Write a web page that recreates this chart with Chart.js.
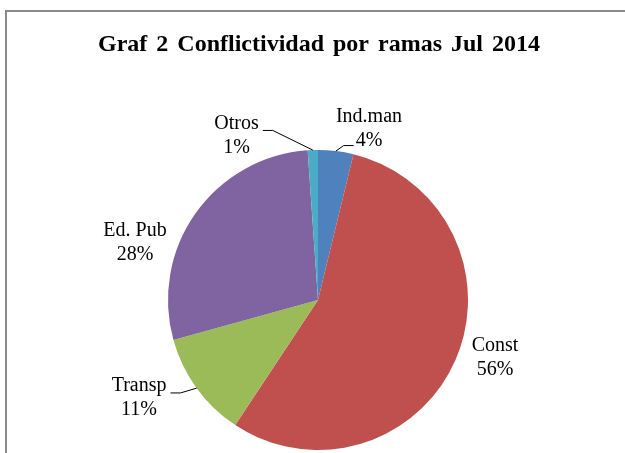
<!DOCTYPE html>
<html>
<head>
<meta charset="utf-8">
<script src="https://cdn.jsdelivr.net/npm/chart.js@4/dist/chart.umd.min.js"></script>
<style>
  html, body { margin: 0; padding: 0; background: #fff; }
  canvas { display: block; }
</style>
</head>
<body>
<canvas id="c" width="625" height="453"></canvas>
<script>
// ---- data ----
const chartTitle = 'Graf 2 Conflictividad por ramas Jul 2014';
const categories = ['Ind.man', 'Const', 'Transp', 'Ed. Pub', 'Otros'];
const shares = [3.8, 55.5, 11.4, 28.2, 1.1];
const sliceColors = ['#4F81BD', '#C0504D', '#9BBB59', '#8064A2', '#4BACC6'];

// ---- label placement (relative to pie centre, in units of radius) ----
const labelPlacement = [
  { fx: 0.34,  fy: -1.143, leader: 'l2left' },
  { fx: 1.18,  fy: 0.387,  leader: null },
  { fx: -1.193, fy: 0.653, leader: 'l1right' },
  { fx: -1.22, fy: -0.38,  leader: null },
  { fx: -0.543, fy: -1.097, leader: 'l1right' }
];

const FONT = '"Liberation Serif", "Times New Roman", serif';

const decorPlugin = {
  id: 'decor',
  beforeDraw(chart) {
    const ctx = chart.ctx;
    ctx.save();
    ctx.fillStyle = '#fff';
    ctx.fillRect(0, 0, chart.width, chart.height);
    ctx.strokeStyle = '#8a8a8a';
    ctx.lineWidth = 2;
    ctx.beginPath();
    ctx.moveTo(6, chart.height + 5);
    ctx.lineTo(6, 11);
    ctx.lineTo(chart.width + 5, 11);
    ctx.stroke();
    ctx.fillStyle = '#000';
    ctx.font = 'bold 24px ' + FONT;
    ctx.textAlign = 'center';
    ctx.textBaseline = 'alphabetic';
    try { ctx.wordSpacing = '3px'; } catch (e) {}
    ctx.fillText(chartTitle, 319, 51);
    try { ctx.wordSpacing = '0px'; } catch (e) {}
    ctx.restore();
  },
  afterDatasetsDraw(chart) {
    const ctx = chart.ctx;
    const meta = chart.getDatasetMeta(0);
    const total = shares.reduce((a, b) => a + b, 0);
    ctx.save();
    ctx.font = '20px ' + FONT;
    ctx.fillStyle = '#000';
    ctx.strokeStyle = '#000';
    ctx.lineWidth = 1;
    ctx.textAlign = 'center';
    ctx.textBaseline = 'middle';
    const gap = 24;
    meta.data.forEach((arc, i) => {
      const p = arc.getProps(['x', 'y', 'startAngle', 'endAngle', 'outerRadius'], true);
      const r = p.outerRadius;
      const pl = labelPlacement[i];
      const cx = p.x + pl.fx * r;
      const cy = p.y + pl.fy * r;
      const l1 = categories[i];
      const l2 = Math.round(shares[i] / total * 100) + '%';
      const y1 = cy - gap / 2, y2 = cy + gap / 2;
      ctx.fillText(l1, cx, y1);
      ctx.fillText(l2, cx, y2);
      if (pl.leader) {
        const mid = (p.startAngle + p.endAngle) / 2;
        const ax = p.x + Math.cos(mid) * r;
        const ay = p.y + Math.sin(mid) * r;
        let ex, ey, dir;
        if (pl.leader === 'l2left') {
          ex = cx - ctx.measureText(l2).width / 2 - 2;
          ey = y2 + 5;
          dir = -1;
        } else {
          ex = cx + ctx.measureText(l1).width / 2 + 4;
          ey = y1 + 7;
          dir = 1;
        }
        ctx.beginPath();
        ctx.moveTo(ex, ey);
        ctx.lineTo(ex + dir * 10, ey);
        ctx.lineTo(ax, ay);
        ctx.stroke();
      }
    });
    ctx.restore();
  }
};

new Chart(document.getElementById('c'), {
  type: 'pie',
  data: {
    labels: categories,
    datasets: [{
      data: shares,
      backgroundColor: sliceColors,
      borderWidth: 0
    }]
  },
  options: {
    responsive: false,
    animation: false,
    layout: { padding: { top: 150, bottom: 3, left: 168, right: 157 } },
    plugins: {
      legend: { display: false },
      title: { display: false },
      tooltip: { enabled: false }
    }
  },
  plugins: [decorPlugin]
});
</script>
</body>
</html>
